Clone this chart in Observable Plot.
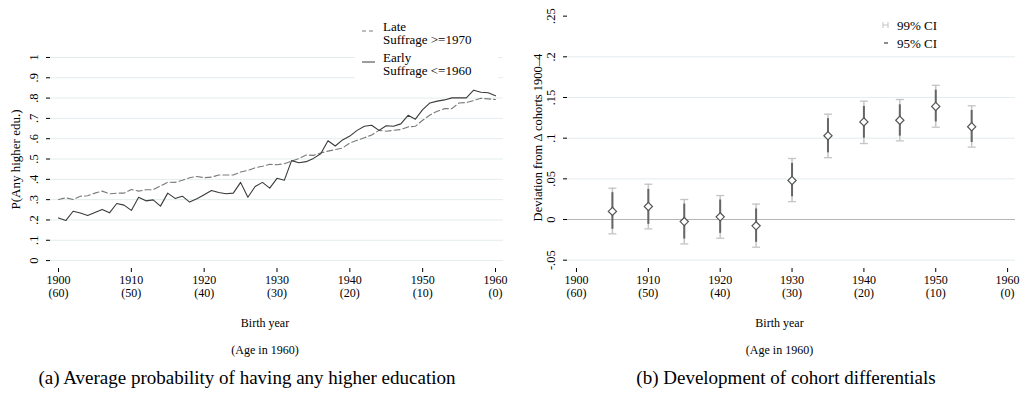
<!DOCTYPE html>
<html><head><meta charset="utf-8">
<script src="https://cdn.jsdelivr.net/npm/d3@7"></script>
<script src="https://cdn.jsdelivr.net/npm/@observablehq/plot@0.6"></script>
<style>
body{margin:0;background:#fff;font-family:"Liberation Serif","Times New Roman",serif;color:#000;}
#wrap{position:relative;width:1029px;height:393px;overflow:hidden;background:#fff;}
.panel{position:absolute;top:0;}
.cap{position:absolute;font-size:19px;white-space:nowrap;transform:translate(-50%,-50%);}
.lt{position:absolute;font-size:13px;line-height:13px;white-space:nowrap;}
.ls{position:absolute;}
</style></head><body>
<div id="wrap">
  <div id="pa" class="panel" style="left:0"></div>
  <div id="pb" class="panel" style="left:514px"></div>
  <div id="legA" style="position:absolute;left:355px;top:9px;width:143px;height:71px;background:#fff;"></div>
  <svg class="ls" style="left:360px;top:29px" width="18" height="4"><line x1="2" x2="15" y1="2" y2="2" stroke="#7a7a7a" stroke-width="1" stroke-dasharray="4,3"/></svg>
  <div class="lt" style="left:383px;top:19.5px">Late</div>
  <div class="lt" style="left:383px;top:32.5px">Suffrage &gt;=1970</div>
  <svg class="ls" style="left:360px;top:60px" width="18" height="4"><line x1="2" x2="15" y1="2" y2="2" stroke="#3a3a3a" stroke-width="1"/></svg>
  <div class="lt" style="left:383px;top:50.5px">Early</div>
  <div class="lt" style="left:383px;top:63.5px">Suffrage &lt;=1960</div>
  <svg class="ls" style="left:881px;top:21px" width="10" height="8"><path d="M2,1V7M7,1V7M2,4H7" stroke="#c4c4c4" stroke-width="1" fill="none"/></svg>
  <div class="lt" style="left:897px;top:18.5px">99% CI</div>
  <svg class="ls" style="left:881px;top:40px" width="10" height="6"><line x1="3" x2="7" y1="3" y2="3" stroke="#666" stroke-width="1.5"/></svg>
  <div class="lt" style="left:897px;top:36.5px">95% CI</div>
  <div class="cap" style="left:247px;top:378px">(a) Average probability of having any higher education</div>
  <div class="cap" style="left:786px;top:378px">(b) Development of cohort differentials</div>
</div>
<script>
// ---------- Panel (a) data ----------
const years = [1900,1901,1902,1903,1904,1905,1906,1907,1908,1909,1910,1911,1912,1913,1914,1915,1916,1917,1918,1919,1920,1921,1922,1923,1924,1925,1926,1927,1928,1929,1930,1931,1932,1933,1934,1935,1936,1937,1938,1939,1940,1941,1942,1943,1944,1945,1946,1947,1948,1949,1950,1951,1952,1953,1954,1955,1956,1957,1958,1959,1960];
const lateSuffrage = [0.301,0.309,0.301,0.317,0.319,0.332,0.342,0.329,0.332,0.332,0.350,0.342,0.349,0.349,0.367,0.386,0.385,0.395,0.408,0.414,0.408,0.411,0.421,0.421,0.421,0.436,0.444,0.457,0.464,0.474,0.472,0.477,0.490,0.502,0.520,0.518,0.530,0.539,0.546,0.554,0.579,0.592,0.605,0.618,0.641,0.637,0.641,0.645,0.658,0.661,0.691,0.717,0.735,0.748,0.748,0.776,0.778,0.788,0.799,0.796,0.793];
const earlySuffrage = [0.210,0.197,0.243,0.234,0.222,0.237,0.252,0.235,0.281,0.273,0.247,0.312,0.294,0.299,0.268,0.332,0.306,0.317,0.288,0.304,0.324,0.345,0.335,0.329,0.332,0.385,0.312,0.365,0.385,0.357,0.405,0.395,0.492,0.482,0.487,0.503,0.526,0.590,0.564,0.594,0.613,0.641,0.661,0.666,0.641,0.664,0.661,0.673,0.715,0.696,0.743,0.776,0.785,0.791,0.801,0.801,0.801,0.839,0.829,0.826,0.811];
const yTicksA = [0,0.1,0.2,0.3,0.4,0.5,0.6,0.7,0.8,0.9,1];
const yTickLabelsA = ["0",".1",".2",".3",".4",".5",".6",".7",".8",".9","1"];

// ---------- Panel (b) data ----------
const cohorts = [1905,1910,1915,1920,1925,1930,1935,1940,1945,1950,1955];
const estimate = [0.010,0.016,-0.0025,0.0033,-0.0078,0.048,0.103,0.120,0.122,0.139,0.114];
const lo95 = [-0.012,-0.006,-0.024,-0.017,-0.028,0.028,0.082,0.100,0.1025,0.120,0.0947];
const hi95 = [0.033,0.037,0.019,0.024,0.013,0.069,0.124,0.139,0.141,0.159,0.134];
const lo99 = [-0.0176,-0.0115,-0.030,-0.023,-0.034,0.022,0.076,0.0934,0.0967,0.1135,0.089];
const hi99 = [0.0385,0.0434,0.0246,0.0295,0.019,0.075,0.1295,0.1455,0.1475,0.165,0.1398];
const yTicksB = [-0.05,0,0.05,0.1,0.15,0.2,0.25];
const yTickLabelsB = ["-.05","0",".05",".1",".15",".2",".25"];
const gridB = [-0.05,0.05,0.1,0.15,0.2];

// ---------- shared x ticks ----------
const xTicks = [1900,1910,1920,1930,1940,1950,1960];
const xTickLabels = ["1900","1910","1920","1930","1940","1950","1960"];
const ageLabels = ["(60)","(50)","(40)","(30)","(20)","(10)","(0)"];

const FONT = '"Liberation Serif","Times New Roman",serif';
const GRID = "#e3ecee";
const xFmt = d => { const i = xTicks.indexOf(d); return xTickLabels[i] + "\n" + ageLabels[i]; };

function bottomLabels() {
  return [
    Plot.text(["Birth year"], {text: d => d, frameAnchor: "bottom", dy: 58, dx: -12, fontSize: 12}),
    Plot.text(["(Age in 1960)"], {text: d => d, frameAnchor: "bottom", dy: 85, dx: -12, fontSize: 12})
  ];
}

const capSymbol = {draw(ctx) { ctx.moveTo(-4, 0); ctx.lineTo(4, 0); }};

const plotA = Plot.plot({
  width: 514, height: 360,
  marginLeft: 50, marginRight: 11, marginTop: 8, marginBottom: 92,
  style: {fontFamily: FONT, fontSize: "12px", color: "#000", background: "transparent"},
  x: {domain: [1898.9, 1961.1]},
  y: {domain: [-0.039, 1.241]},
  marks: [
    Plot.gridY(yTicksA, {stroke: GRID, strokeOpacity: 1}),
    Plot.line(years.map((yr, i) => [yr, lateSuffrage[i]]), {stroke: "#7a7a7a", strokeWidth: 1.1, strokeDasharray: "6,3"}),
    Plot.line(years.map((yr, i) => [yr, earlySuffrage[i]]), {stroke: "#3a3a3a", strokeWidth: 1.1}),
    Plot.axisX(xTicks, {tickSize: 4, tickPadding: 2, tickFormat: xFmt, lineHeight: 1.1, label: null, line: true, fontSize: 12}),
    Plot.axisY(yTicksA, {tickSize: 4, tickFormat: () => "", label: null, line: true}),
    Plot.text(yTicksA, {y: d => d, text: (d, i) => yTickLabelsA[i], frameAnchor: "left", dx: -17, rotate: -90, textAnchor: "middle", fontSize: 12.5}),
    Plot.text(["P(Any higher edu.)"], {text: d => d, frameAnchor: "left", dx: -35, dy: 21, rotate: -90, textAnchor: "middle", fontSize: 13}),
    ...bottomLabels()
  ]
});
document.getElementById("pa").appendChild(plotA);

const plotB = Plot.plot({
  width: 515, height: 360,
  marginLeft: 53, marginRight: 14, marginTop: 8, marginBottom: 92,
  style: {fontFamily: FONT, fontSize: "12px", color: "#000", background: "transparent"},
  x: {domain: [1898.75, 1961.1]},
  y: {domain: [-0.0602, 0.2594]},
  marks: [
    Plot.gridY(gridB, {stroke: GRID, strokeOpacity: 1}),
    Plot.ruleY([0], {stroke: "#b5b5b5", strokeWidth: 1}),
    Plot.ruleX(cohorts, {x: d => d, y1: (d, i) => lo99[i], y2: (d, i) => hi99[i], stroke: "#c4c4c4", strokeWidth: 1.5}),
    Plot.dot(cohorts, {x: d => d, y: (d, i) => lo99[i], symbol: capSymbol, r: 3, stroke: "#c4c4c4", strokeWidth: 1.3, fill: "none"}),
    Plot.dot(cohorts, {x: d => d, y: (d, i) => hi99[i], symbol: capSymbol, r: 3, stroke: "#c4c4c4", strokeWidth: 1.3, fill: "none"}),
    Plot.ruleX(cohorts, {x: d => d, y1: (d, i) => lo95[i], y2: (d, i) => hi95[i], stroke: "#666", strokeWidth: 2}),
    Plot.dot(cohorts, {x: d => d, y: (d, i) => estimate[i], symbol: "diamond2", r: 3.7, stroke: "#555", strokeWidth: 1.2, fill: "#fff"}),
    Plot.axisX(xTicks, {tickSize: 4, tickPadding: 2, tickFormat: xFmt, lineHeight: 1.1, label: null, line: true, fontSize: 12}),
    Plot.axisY(yTicksB, {tickSize: 4, tickFormat: () => "", label: null, line: true}),
    Plot.text(yTicksB, {y: d => d, text: (d, i) => yTickLabelsB[i], frameAnchor: "left", dx: -17, rotate: -90, textAnchor: "middle", fontSize: 12.5}),
    Plot.text(["Deviation from \u0394 cohorts 1900\u20134"], {text: d => d, frameAnchor: "left", dx: -30, dy: -1, rotate: -90, textAnchor: "middle", fontSize: 12.5}),
    ...bottomLabels()
  ]
});
document.getElementById("pb").appendChild(plotB);
</script>
</body></html>
